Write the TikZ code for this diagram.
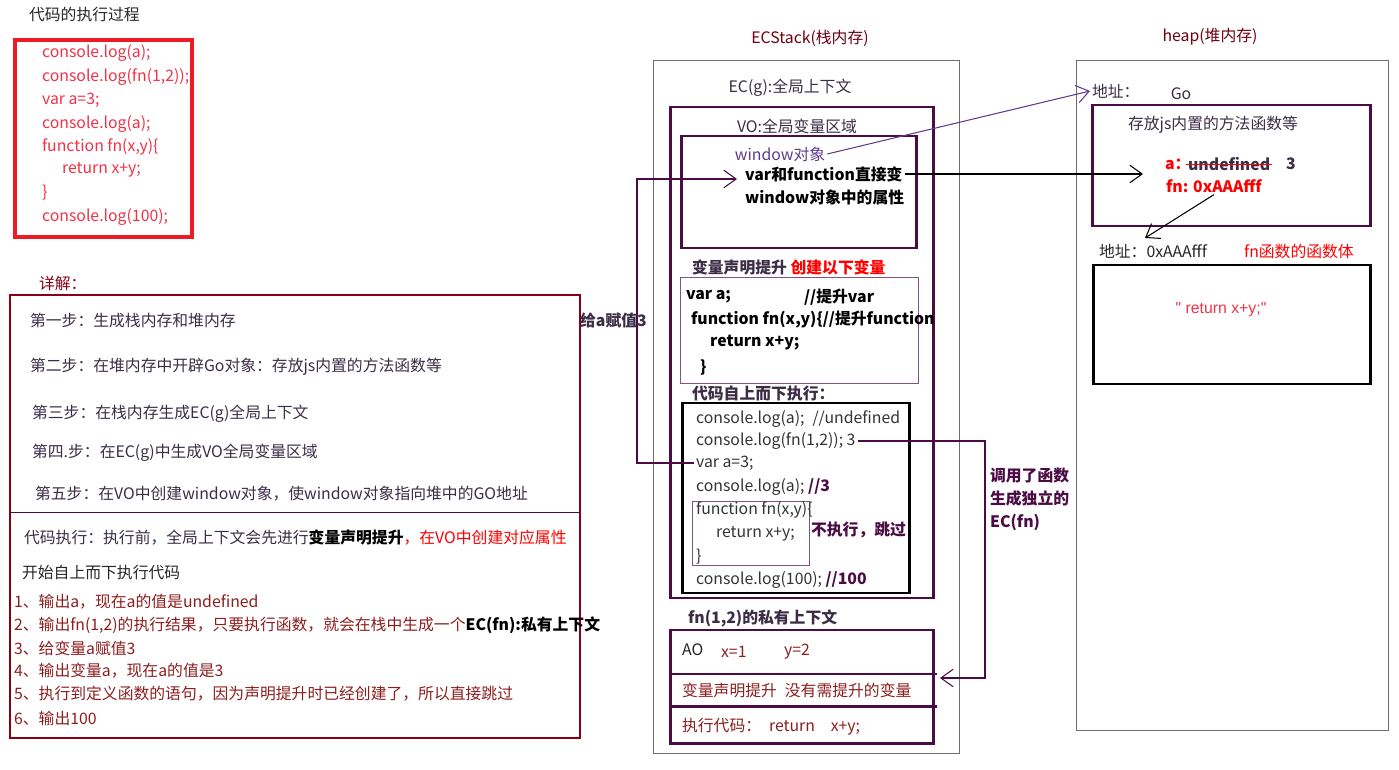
\documentclass[tikz,border=0pt]{standalone}
\usepackage{fontspec}
\setmainfont{Noto Sans CJK SC}
\newfontfamily\latinfont{Liberation Sans}
\usetikzlibrary{arrows.meta,fit}

\definecolor{boxred}{RGB}{237,28,36}
\definecolor{codered}{RGB}{240,50,70}
\definecolor{deepred}{RGB}{136,0,21}
\definecolor{listred}{RGB}{140,30,30}
\definecolor{plum}{RGB}{75,12,70}
\definecolor{ink}{RGB}{60,45,70}
\definecolor{violetink}{RGB}{95,60,140}
\definecolor{frame}{RGB}{110,110,110}

\begin{document}
\begin{tikzpicture}[x=0.02cm, y=-0.02cm,
    every node/.style={font=\fontsize{9}{11}\selectfont, inner sep=1pt},
    txt/.style={anchor=west, text=ink},
    bold/.style={font=\fontsize{9}{11}\selectfont\bfseries},
    code/.style={anchor=west, text=codered},
    area/.style={draw, inner sep=0pt},
    heavy/.style={area, draw=plum, line width=1.7pt},
    link/.style={draw=plum, semithick, -{Straight Barb[length=7pt,width=10pt]}},
  ]
  \useasboundingbox (0,0) rectangle (1399,770);

  %% left: source code
  \node[txt, text=black!85] (title) at (27,14) {代码的执行过程};
  \node[area, draw=boxred, line width=2.3pt, fit={(15,40) (192,237)}] (codebox) {};
  \node[code] (src1) at (40,53)  {console.log(a);};
  \node[code] (src2) at (40,77)  {console.log(fn(1,2));};
  \node[code] (src3) at (40,100) {var a=3;};
  \node[code] (src4) at (40,124) {console.log(a);};
  \node[code] (src5) at (40,147) {function fn(x,y)\{};
  \node[code] (src6) at (60,170) {return x+y;};
  \node[code] (src7) at (40,193) {\}};
  \node[code] (src8) at (40,217) {console.log(100);};

  %% left: explanation
  \node[txt, text=deepred] (detail) at (37,283) {详解：};
  \node[area, draw=deepred, line width=1.4pt, fit={(10,295) (580,738)}] (detailbox) {};
  \node[txt] (step1) at (28,321) {第一步：生成栈内存和堆内存};
  \node[txt] (step2) at (28,367) {第二步：在堆内存中开辟Go对象：存放js内置的方法函数等};
  \node[txt] (step3) at (30,414) {第三步：在栈内存生成EC(g)全局上下文};
  \node[txt] (step4) at (30,453) {第四.步：在EC(g)中生成VO全局变量区域};
  \node[txt] (step5) at (33,494) {第五步：在VO中创建window对象，使window对象指向堆中的GO地址};
  \draw[plum] (10,512) -- (580,512);
  \node[txt] (run) at (22,537) {代码执行：执行前，全局上下文会先进行\textbf{\color{black}变量声明提升}\textcolor{red}{，在VO中创建对应属性}};
  \node[txt, text=black!85] (start) at (20,573) {开始自上而下执行代码};
  \node[txt, text=listred] (out1) at (12,602) {1、输出a，现在a的值是undefined};
  \node[txt, text=listred] (out2) at (12,625) {2、输出fn(1,2)的执行结果，只要执行函数，就会在栈中生成一个\textbf{\color{black}EC(fn):私有上下文}};
  \node[txt, text=listred] (out3) at (12,648) {3、给变量a赋值3};
  \node[txt, text=listred] (out4) at (12,671) {4、输出变量a，现在a的值是3};
  \node[txt, text=listred] (out5) at (12,694) {5、执行到定义函数的语句，因为声明提升时已经创建了，所以直接跳过};
  \node[txt, text=listred] (out6) at (12,718) {6、输出100};

  %% middle: stack
  \node[text=deepred!80!black] (stacktitle) at (810,38) {ECStack(栈内存)};
  \node[area, draw=frame, thin, fit={(653,60) (959,753)}] (stack) {};
  \node[text=ink] (ecglabel) at (790,88) {EC(g):全局上下文};
  \node[heavy, fit={(670,107) (933,598)}] (ecg) {};
  \node[text=ink] (volabel) at (797,126) {VO:全局变量区域};
  \node[heavy, fit={(681,136) (916,248)}] (vo) {};
  \node[text=violetink] (winobj) at (780,154) {window对象};
  \node[txt, bold, text=black] (varfn) at (743,174) {var和function直接变};
  \node[txt, bold, text=black] (winprop) at (743,197) {window对象中的属性};

  \node[txt, bold, text=ink] (hoist) at (690,267) {变量声明提升 \textcolor{red}{创建以下变量}};
  \node[area, draw=plum!70, thin, fit={(680,277) (918,383)}] (hoistbox) {};
  \node[txt, bold, text=black] (h1)  at (684,297) {var a;};
  \node[txt, bold, text=black] (h1c) at (802,297) {//提升var};
  \node[txt, bold, text=black] (h2)  at (689,320) {function fn(x,y)\{//提升function};
  \node[txt, bold, text=black] (h3)  at (708,343) {return x+y;};
  \node[txt, bold, text=black] (h4)  at (698,367) {\}};

  \node[txt, bold, text=ink] (exec) at (690,394) {代码自上而下执行：};
  \node[area, draw=black, line width=1.7pt, fit={(682,403) (909,593)}] (execbox) {};
  \node[txt, text=black!80] (c1) at (694,419) {console.log(a);\enspace //undefined};
  \node[txt, text=black!80] (c2) at (694,441) {console.log(fn(1,2)); 3};
  \node[txt, text=black!80] (va) at (694,463) {var a=3;};
  \node[txt, text=black!80] (c4) at (694,487) {console.log(a); \textbf{\color{plum}//3}};
  \node[area, draw=plum!70, thin, fit={(692,501) (809,565)}] (fnbox) {};
  \node[txt, text=black!80] (f1) at (694,510) {function fn(x,y)\{};
  \node[txt, text=black!80] (f2) at (714,534) {return x+y;};
  \node[txt, text=black!80] (f3) at (694,557) {\}};
  \node[txt, bold, text=plum] (skip) at (809,530) {不执行，跳过};
  \node[txt, text=black!80] (c6) at (694,580) {console.log(100); \textbf{\color{plum}//100}};

  %% middle: function context
  \node[txt, bold, text=ink] (fnctx) at (686,618) {fn(1,2)的私有上下文};
  \node[heavy, fit={(670,630) (933,743)}] (ao) {};
  \draw[plum, line width=1.7pt] (670,674) -- (937,674);
  \draw[plum, line width=1.7pt] (670,706) -- (937,706);
  \node[txt, text=black!85] (aolabel) at (680,650) {AO};
  \node[txt, text=listred] (aox) at (719,652) {x=1};
  \node[txt, text=listred] (aoy) at (782,652) {y=2};
  \node[txt, text=listred] (aohoist) at (680,690) {变量声明提升\enspace 没有需提升的变量};
  \node[txt, text=listred] (aorun) at (680,727) {执行代码：\enspace return\quad x+y;};

  %% right: heap
  \node[text=deepred!80!black] (heaptitle) at (1210,37) {heap(堆内存)};
  \node[area, draw=frame, thin, fit={(1076,60) (1388,730)}] (heap) {};
  \node[txt] (addrgo) at (1090,91) {地址：};
  \node[text=ink] (golabel) at (1181,94) {Go};
  \node[heavy, fit={(1092,105) (1370,226)}] (gobox) {};
  \node[text=ink] (gotext) at (1213,125) {存放js内置的方法函数等};
  \node[txt, bold, text=red] (heapa) at (1163,164) {a：};
  \node[txt, bold, text=ink] (undef) at (1186,164) {undefined};
  \node[txt, bold, text=ink] (three) at (1284,164) {3};
  \draw[red] (undef.west) -- (undef.east);
  \node[txt, bold, text=red] (fnaddr) at (1164,186) {fn: 0xAAAfff};
  \node[txt, text=black!85] (addrfn) at (1097,251) {地址：0xAAAfff};
  \node[txt, text=red] (fnbody) at (1242,251) {fn函数的函数体};
  \node[area, draw=black, line width=1.7pt, fit={(1093,265) (1370,384)}] (bodybox) {};
  \node[text=codered, font=\fontsize{9}{11}\selectfont\latinfont] (bodytext) at (1221,310) {" return x+y;"};

  %% connectors
  \coordinate (abend)   at (637,463);
  \coordinate (wintip)  at (737,179);
  \coordinate (slota)   at (1143,174);
  \coordinate (bodytip) at (1145,238);
  \coordinate (callbend) at (985,678);
  \coordinate (callin)  at (940,678);

  \draw[link] (va.west) -- (abend) |- (wintip);
  \node[txt, bold, text=ink] (assign) at (578,320) {给a赋值3};

  \draw[link, draw=violetink] (winobj.east) -- (addrgo.west);
  \draw[link, draw=black] (varfn.east) -- (slota);
  \draw[link, draw=black] (fnaddr.south) -- (bodytip);

  \draw[link] (c2.east) -| (callbend) -- (callin);
  \node[anchor=north west, align=left, text=plum,
        font=\fontsize{9}{13}\selectfont\bfseries] (calllabel) at (988,466)
        {调用了函数\\生成独立的\\EC(fn)};
\end{tikzpicture}
\end{document}
